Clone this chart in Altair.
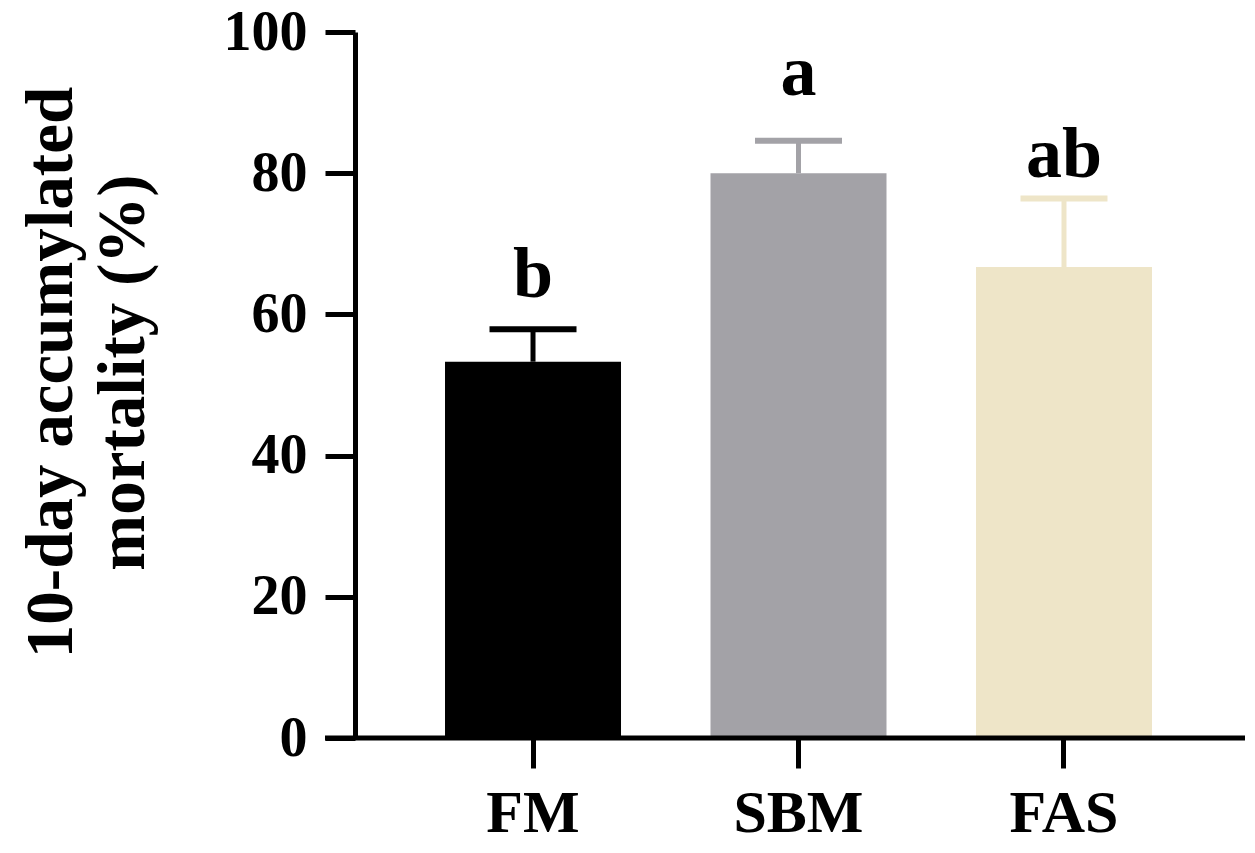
import altair as alt
import pandas as pd

groups = ["FM", "SBM", "FAS"]
means = [53.3, 80.0, 66.7]
errors = [4.6, 4.6, 9.7]
letters = ["b", "a", "ab"]
letter_heights = [62.5, 91.1, 79.5]
colors = ["#000000", "#A3A2A7", "#EEE5C8"]
y_ticks = [0, 20, 40, 60, 80, 100]

df = pd.DataFrame({
    "group": groups,
    "mean": means,
    "err": errors,
    "letter": letters,
    "lab_y": letter_heights,
})
df["top"] = df["mean"] + df["err"]

FONT = "Liberation Serif"
W, H = 890, 706

xenc = alt.X("group:N", sort=groups,
             scale=alt.Scale(range=[90, 797], paddingInner=0.337, paddingOuter=0),
             axis=alt.Axis(title=None, domain=False, ticks=True, tickSize=30, tickWidth=5,
                           tickColor="black", labelFont=FONT, labelFontSize=60,
                           labelFontWeight="bold", labelColor="black", labelPadding=16,
                           labelAngle=0, grid=False))
color = alt.Color("group:N", scale=alt.Scale(domain=groups, range=colors), legend=None)
yscale = alt.Scale(domain=[0, 100], nice=False)

base = alt.Chart(df)

bars = base.mark_bar(size=176, opacity=1).encode(
    x=xenc,
    y=alt.Y("mean:Q", scale=yscale,
            axis=alt.Axis(values=y_ticks, title=["10-day accumylated", "mortality (%)"],
                          titleFont=FONT, titleFontSize=67, titleFontWeight="bold",
                          titleColor="black", titleLineHeight=72, titlePadding=66,
                          titleY=340,
                          labelFont=FONT, labelFontSize=56, labelFontWeight="bold",
                          labelColor="black", labelPadding=18, tickSize=30, tickWidth=5,
                          tickColor="black", domainColor="black", domainWidth=5,
                          grid=False)),
    color=color,
)

err_rule = base.mark_rule(strokeWidth=5, opacity=1).encode(
    x=alt.X("group:N", sort=groups),
    y=alt.Y("mean:Q", scale=yscale),
    y2="top:Q",
    color=color,
)

caps = base.mark_tick(size=87, thickness=6, opacity=1).encode(
    x=alt.X("group:N", sort=groups),
    y=alt.Y("top:Q", scale=yscale),
    color=color,
)

labels = base.mark_text(font=FONT, fontSize=72, fontWeight="bold", color="black",
                        baseline="alphabetic", align="center").encode(
    x=alt.X("group:N", sort=groups),
    y=alt.Y("lab_y:Q", scale=yscale),
    text="letter:N",
)

xaxis_line = alt.Chart(pd.DataFrame({"k": [0]})).mark_rule(color="black", strokeWidth=5).encode(
    x=alt.value(-30), x2=alt.value(W), y=alt.value(H),
)

chart = alt.layer(bars, err_rule, caps, labels, xaxis_line).properties(
    width=W, height=H,
    padding={"left": 347, "top": 24, "right": 2, "bottom": 107},
    autosize=alt.AutoSizeParams(type="none"),
    background="white",
).configure_view(stroke=None)

chart.save("out.html", embed_options={"renderer": "svg", "actions": False})
